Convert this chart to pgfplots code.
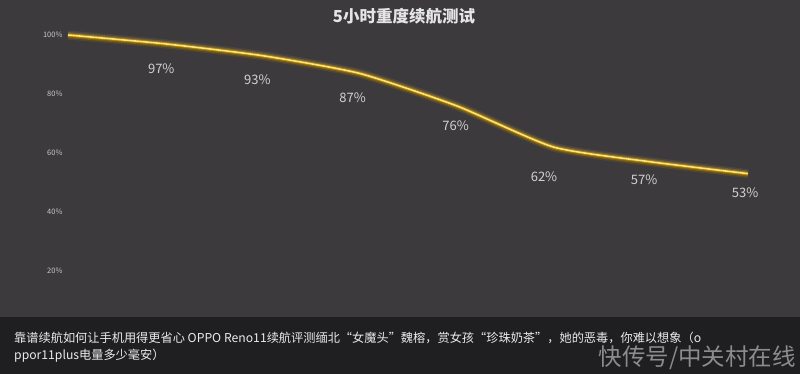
\documentclass[border=0pt]{standalone}
\usepackage{pgfplots}
\pgfplotsset{compat=1.18}
\usepackage{pgfplotstable}
\usepackage{fontspec}
\setmainfont{Noto Sans CJK SC}
\definecolor{bg}{HTML}{3C3A3D}
\definecolor{capbg}{HTML}{1F1E20}
\definecolor{glow}{HTML}{D9A400}
\definecolor{core}{HTML}{FFE27A}
\definecolor{lbl}{HTML}{D2D2D2}
\definecolor{tick}{HTML}{C8C8C8}
\definecolor{wm}{HTML}{8C8C8C}
\pgfplotstableread{
x y
0 100
1 97
2 93
3 87
4 76
5 62
6 57
7 53
}\battery
\begin{document}
\begin{tikzpicture}[x=1pt,y=1pt]
\fill[bg] (0,0) rectangle (800,374);
\useasboundingbox (0,0) rectangle (800,374);
\node[text=white!90!black, font=\bfseries\fontsize{16.5}{18}\selectfont] at (404,358) {5小时重度续航测试};
\begin{axis}[
  at={(68pt,44pt)}, anchor=south west,
  scale only axis, width=680pt, height=295pt,
  xmin=0, xmax=7, ymin=0, ymax=100,
  clip=false,
  axis line style={draw=none},
  major tick length=0pt,
  xtick=\empty,
  ytick={20,40,60,80,100},
  yticklabel={\pgfmathprintnumber{\tick}\%},
  /pgf/number format/assume math mode=true,
  yticklabel style={text=tick, font=\fontsize{7.5}{9}\selectfont, xshift=-2pt},
]
\addplot[glow, opacity=0.12, line width=9pt, smooth, tension=0.35] table {\battery};
\addplot[glow, opacity=0.25, line width=6pt, smooth, tension=0.35] table {\battery};
\addplot[glow, opacity=0.5, line width=3.5pt, smooth, tension=0.35] table {\battery};
\addplot[core, line width=1.6pt, smooth, tension=0.35] table {\battery};
\addplot[draw=none, mark=none,
  nodes near coords={\pgfmathprintnumber{\pgfplotspointmeta}\%},
  point meta=explicit,
  every node near coord/.style={text=lbl, font=\fontsize{13}{15}\selectfont, anchor=center},
] coordinates {
  (0.96,88.7) [97]
  (1.95,84.9) [93]
  (2.93,78.6) [87]
  (3.99,69.1) [76]
  (4.9,51.9) [62]
  (5.93,50.8) [57]
  (6.97,46.4) [53]
};
\end{axis}
\fill[capbg] (0,0) rectangle (800,57);
\node[anchor=west, text=white!92!black, font=\fontsize{12.2}{14}\selectfont, inner sep=0pt] at (14,36) {靠谱续航如何让手机用得更省心 OPPO Reno11续航评测缅北“女魔头”魏榕，赏女孩“珍珠奶茶”，她的恶毒，你难以想象（o};
\node[anchor=west, text=white!92!black, font=\fontsize{12.2}{14}\selectfont, inner sep=0pt] at (14,18) {ppor11plus电量多少毫安）};
\node[anchor=east, text=wm, font=\fontsize{23.5}{26}\selectfont, inner sep=0pt] at (796,16) {快传号/中关村在线};
\end{tikzpicture}
\end{document}
